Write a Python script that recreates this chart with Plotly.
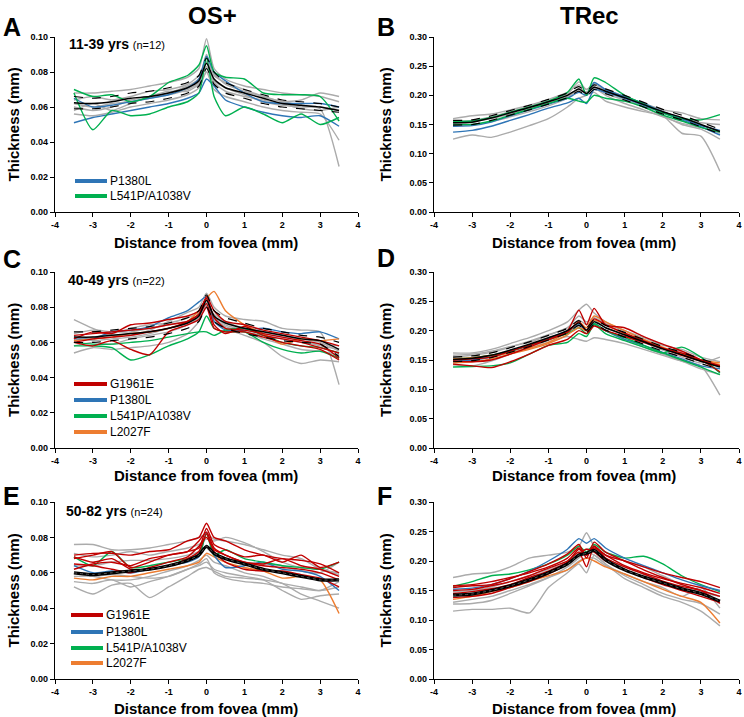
import plotly.graph_objects as go

W, H = 744, 717

# ---------------- data ----------------
X = [-3.5, -3.0, -2.5, -2.0, -1.5, -1.0, -0.5, -0.2, 0.0, 0.2, 0.5, 1.0, 1.5, 2.0, 2.5, 3.0, 3.5]

# Panel A  OS+ 11-39 yrs
A_mean = [0.0625, 0.062, 0.063, 0.065, 0.066, 0.068, 0.071, 0.075, 0.085, 0.076, 0.071, 0.068, 0.065, 0.062, 0.061, 0.060, 0.058]
A_upper = [0.066, 0.065, 0.066, 0.068, 0.069, 0.071, 0.074, 0.078, 0.088, 0.080, 0.074, 0.070, 0.067, 0.064, 0.063, 0.062, 0.060]
A_lower = [0.059, 0.059, 0.060, 0.062, 0.063, 0.065, 0.068, 0.072, 0.082, 0.073, 0.068, 0.065, 0.062, 0.060, 0.059, 0.058, 0.057]
A_gray = [
    [0.068, 0.068, 0.069, 0.070, 0.072, 0.074, 0.077, 0.082, 0.099, 0.082, 0.076, 0.072, 0.070, 0.068, 0.067, 0.066, 0.063],
    [0.060, 0.058, 0.060, 0.064, 0.066, 0.068, 0.072, 0.076, 0.090, 0.078, 0.074, 0.070, 0.066, 0.063, 0.061, 0.059, 0.026],
    [0.056, 0.055, 0.057, 0.060, 0.062, 0.064, 0.067, 0.071, 0.080, 0.070, 0.066, 0.063, 0.060, 0.058, 0.057, 0.056, 0.041],
    [0.064, 0.066, 0.064, 0.066, 0.069, 0.070, 0.073, 0.078, 0.086, 0.079, 0.073, 0.069, 0.066, 0.063, 0.064, 0.068, 0.066],
    [0.062, 0.060, 0.062, 0.063, 0.065, 0.067, 0.070, 0.074, 0.083, 0.075, 0.071, 0.067, 0.063, 0.061, 0.060, 0.060, 0.058],
    [0.058, 0.062, 0.058, 0.062, 0.066, 0.069, 0.069, 0.073, 0.080, 0.074, 0.069, 0.066, 0.064, 0.062, 0.059, 0.058, 0.060],
]
A_blue = [
    [0.051, 0.054, 0.056, 0.058, 0.060, 0.062, 0.065, 0.068, 0.076, 0.072, 0.064, 0.060, 0.057, 0.055, 0.054, 0.055, 0.049],
    [0.065, 0.060, 0.061, 0.063, 0.065, 0.067, 0.071, 0.076, 0.089, 0.080, 0.075, 0.068, 0.063, 0.062, 0.062, 0.062, 0.060],
]
A_green = [
    [0.070, 0.066, 0.067, 0.063, 0.066, 0.074, 0.078, 0.084, 0.095, 0.080, 0.077, 0.076, 0.068, 0.067, 0.067, 0.066, 0.052],
    [0.068, 0.047, 0.058, 0.055, 0.056, 0.060, 0.063, 0.068, 0.088, 0.066, 0.055, 0.060, 0.056, 0.051, 0.056, 0.050, 0.054],
]

# Panel B  TRec 11-39 yrs
B_mean = [0.153, 0.154, 0.161, 0.170, 0.179, 0.189, 0.200, 0.211, 0.203, 0.214, 0.207, 0.196, 0.184, 0.172, 0.162, 0.150, 0.138]
B_upper = [0.157, 0.158, 0.165, 0.174, 0.183, 0.193, 0.204, 0.215, 0.207, 0.218, 0.211, 0.200, 0.188, 0.176, 0.166, 0.154, 0.142]
B_lower = [0.149, 0.150, 0.157, 0.166, 0.175, 0.185, 0.196, 0.207, 0.199, 0.210, 0.203, 0.192, 0.180, 0.168, 0.158, 0.146, 0.134]
B_gray = [
    [0.125, 0.132, 0.128, 0.137, 0.148, 0.160, 0.180, 0.195, 0.200, 0.205, 0.190, 0.180, 0.172, 0.165, 0.135, 0.130, 0.070],
    [0.160, 0.165, 0.168, 0.175, 0.183, 0.193, 0.205, 0.218, 0.210, 0.220, 0.210, 0.198, 0.186, 0.175, 0.170, 0.160, 0.158],
    [0.152, 0.155, 0.160, 0.168, 0.177, 0.187, 0.198, 0.208, 0.205, 0.212, 0.200, 0.186, 0.175, 0.163, 0.152, 0.145, 0.135],
    [0.147, 0.150, 0.155, 0.163, 0.172, 0.182, 0.195, 0.212, 0.206, 0.215, 0.203, 0.192, 0.180, 0.165, 0.150, 0.142, 0.125],
    [0.155, 0.157, 0.163, 0.172, 0.181, 0.191, 0.202, 0.223, 0.210, 0.218, 0.208, 0.193, 0.181, 0.172, 0.160, 0.153, 0.150],
]
B_blue = [
    [0.137, 0.140, 0.147, 0.157, 0.167, 0.178, 0.187, 0.195, 0.186, 0.210, 0.205, 0.195, 0.183, 0.170, 0.158, 0.146, 0.132],
    [0.147, 0.148, 0.154, 0.165, 0.175, 0.185, 0.195, 0.205, 0.200, 0.222, 0.210, 0.198, 0.186, 0.172, 0.160, 0.148, 0.140],
]
B_green = [
    [0.155, 0.156, 0.162, 0.171, 0.180, 0.190, 0.205, 0.228, 0.200, 0.230, 0.222, 0.200, 0.185, 0.170, 0.160, 0.158, 0.167],
    [0.150, 0.150, 0.156, 0.166, 0.176, 0.186, 0.195, 0.190, 0.188, 0.200, 0.195, 0.190, 0.180, 0.166, 0.156, 0.145, 0.137],
]

# Panel C  OS+ 40-49 yrs
C_mean = [0.063, 0.063, 0.064, 0.065, 0.066, 0.068, 0.071, 0.075, 0.084, 0.075, 0.071, 0.068, 0.066, 0.064, 0.062, 0.061, 0.056]
C_upper = [0.066, 0.066, 0.067, 0.068, 0.069, 0.071, 0.074, 0.078, 0.087, 0.078, 0.074, 0.071, 0.068, 0.066, 0.064, 0.063, 0.060]
C_lower = [0.060, 0.060, 0.061, 0.062, 0.063, 0.065, 0.068, 0.072, 0.080, 0.072, 0.068, 0.065, 0.063, 0.061, 0.060, 0.059, 0.052]
C_gray = [
    [0.073, 0.068, 0.064, 0.064, 0.067, 0.072, 0.077, 0.080, 0.088, 0.080, 0.075, 0.073, 0.072, 0.068, 0.067, 0.066, 0.036],
    [0.054, 0.057, 0.056, 0.057, 0.058, 0.060, 0.065, 0.072, 0.082, 0.072, 0.068, 0.064, 0.060, 0.052, 0.048, 0.050, 0.049],
    [0.065, 0.067, 0.066, 0.066, 0.068, 0.070, 0.072, 0.075, 0.080, 0.076, 0.072, 0.068, 0.066, 0.064, 0.062, 0.060, 0.055],
    [0.058, 0.060, 0.059, 0.062, 0.064, 0.066, 0.070, 0.074, 0.083, 0.074, 0.069, 0.066, 0.062, 0.059, 0.056, 0.055, 0.053],
    [0.061, 0.063, 0.065, 0.068, 0.070, 0.071, 0.074, 0.077, 0.081, 0.075, 0.070, 0.067, 0.065, 0.063, 0.061, 0.058, 0.056],
    [0.063, 0.061, 0.062, 0.063, 0.065, 0.068, 0.071, 0.076, 0.085, 0.074, 0.068, 0.066, 0.064, 0.062, 0.060, 0.059, 0.058],
]
C_red = [
    [0.062, 0.066, 0.065, 0.070, 0.071, 0.073, 0.075, 0.078, 0.085, 0.074, 0.068, 0.067, 0.065, 0.063, 0.061, 0.059, 0.051],
    [0.060, 0.062, 0.063, 0.064, 0.066, 0.068, 0.072, 0.076, 0.082, 0.070, 0.065, 0.069, 0.064, 0.062, 0.060, 0.057, 0.054],
    [0.060, 0.058, 0.061, 0.056, 0.053, 0.066, 0.070, 0.073, 0.080, 0.068, 0.066, 0.066, 0.063, 0.060, 0.058, 0.056, 0.050],
    [0.064, 0.065, 0.066, 0.067, 0.068, 0.070, 0.072, 0.076, 0.086, 0.078, 0.072, 0.070, 0.067, 0.065, 0.063, 0.061, 0.058],
]
C_blue = [
    [0.062, 0.062, 0.066, 0.067, 0.069, 0.074, 0.078, 0.083, 0.086, 0.072, 0.067, 0.067, 0.068, 0.066, 0.065, 0.066, 0.062],
]
C_green = [
    [0.058, 0.058, 0.057, 0.050, 0.053, 0.058, 0.062, 0.066, 0.075, 0.068, 0.066, 0.066, 0.060, 0.056, 0.054, 0.055, 0.051],
    [0.060, 0.059, 0.059, 0.060, 0.061, 0.063, 0.065, 0.066, 0.066, 0.064, 0.067, 0.068, 0.064, 0.060, 0.058, 0.057, 0.054],
]
C_orange = [
    [0.061, 0.062, 0.063, 0.065, 0.066, 0.068, 0.072, 0.078, 0.085, 0.089, 0.078, 0.070, 0.065, 0.059, 0.062, 0.061, 0.062],
]

# Panel D  TRec 40-49 yrs
D_mean = [0.151, 0.153, 0.158, 0.167, 0.177, 0.188, 0.200, 0.213, 0.201, 0.215, 0.205, 0.193, 0.181, 0.169, 0.159, 0.148, 0.138]
D_upper = [0.155, 0.157, 0.162, 0.171, 0.181, 0.192, 0.204, 0.217, 0.205, 0.219, 0.209, 0.197, 0.185, 0.173, 0.163, 0.152, 0.142]
D_lower = [0.147, 0.149, 0.154, 0.163, 0.173, 0.184, 0.196, 0.209, 0.197, 0.211, 0.201, 0.189, 0.177, 0.165, 0.155, 0.144, 0.134]
D_gray = [
    [0.162, 0.162, 0.168, 0.178, 0.188, 0.200, 0.215, 0.235, 0.245, 0.230, 0.215, 0.200, 0.188, 0.175, 0.168, 0.155, 0.147],
    [0.142, 0.140, 0.148, 0.160, 0.170, 0.180, 0.190, 0.185, 0.182, 0.188, 0.185, 0.178, 0.168, 0.158, 0.148, 0.140, 0.090],
    [0.155, 0.158, 0.163, 0.172, 0.182, 0.193, 0.205, 0.225, 0.215, 0.222, 0.212, 0.200, 0.185, 0.170, 0.165, 0.150, 0.140],
    [0.148, 0.150, 0.155, 0.163, 0.172, 0.183, 0.197, 0.208, 0.200, 0.212, 0.200, 0.185, 0.172, 0.160, 0.148, 0.135, 0.125],
    [0.158, 0.160, 0.165, 0.173, 0.180, 0.192, 0.205, 0.218, 0.210, 0.218, 0.205, 0.192, 0.180, 0.167, 0.155, 0.145, 0.155],
]
D_red = [
    [0.148, 0.147, 0.150, 0.160, 0.172, 0.185, 0.200, 0.235, 0.210, 0.238, 0.210, 0.205, 0.190, 0.177, 0.165, 0.150, 0.130],
    [0.143, 0.140, 0.137, 0.147, 0.160, 0.175, 0.185, 0.200, 0.195, 0.208, 0.200, 0.190, 0.180, 0.170, 0.158, 0.148, 0.140],
    [0.150, 0.152, 0.155, 0.165, 0.175, 0.185, 0.197, 0.215, 0.200, 0.220, 0.210, 0.196, 0.183, 0.170, 0.162, 0.150, 0.140],
]
D_blue = [
    [0.148, 0.150, 0.155, 0.165, 0.175, 0.187, 0.200, 0.210, 0.200, 0.212, 0.200, 0.185, 0.175, 0.163, 0.152, 0.140, 0.135],
]
D_green = [
    [0.138, 0.139, 0.140, 0.145, 0.160, 0.175, 0.180, 0.195, 0.190, 0.210, 0.195, 0.183, 0.172, 0.162, 0.172, 0.155, 0.128],
    [0.152, 0.154, 0.158, 0.165, 0.175, 0.185, 0.195, 0.205, 0.195, 0.212, 0.200, 0.188, 0.175, 0.162, 0.150, 0.138, 0.125],
]
D_orange = [
    [0.152, 0.154, 0.158, 0.162, 0.170, 0.180, 0.198, 0.215, 0.205, 0.225, 0.215, 0.200, 0.185, 0.172, 0.160, 0.150, 0.142],
    [0.145, 0.147, 0.152, 0.160, 0.168, 0.178, 0.193, 0.205, 0.200, 0.218, 0.210, 0.195, 0.182, 0.170, 0.160, 0.150, 0.145],
]

# Panel E  OS+ 50-82 yrs
E_mean = [0.060, 0.059, 0.060, 0.061, 0.062, 0.064, 0.067, 0.070, 0.075, 0.071, 0.068, 0.065, 0.062, 0.060, 0.058, 0.056, 0.056]
E_gray = [
    [0.076, 0.076, 0.073, 0.073, 0.074, 0.076, 0.078, 0.080, 0.082, 0.079, 0.078, 0.076, 0.073, 0.070, 0.068, 0.062, 0.060],
    [0.052, 0.048, 0.053, 0.054, 0.046, 0.052, 0.058, 0.062, 0.063, 0.061, 0.058, 0.057, 0.056, 0.054, 0.048, 0.044, 0.040],
    [0.058, 0.058, 0.056, 0.056, 0.058, 0.061, 0.064, 0.067, 0.070, 0.066, 0.064, 0.060, 0.058, 0.054, 0.052, 0.050, 0.052],
    [0.071, 0.069, 0.070, 0.072, 0.070, 0.072, 0.074, 0.076, 0.079, 0.078, 0.080, 0.077, 0.072, 0.066, 0.063, 0.062, 0.059],
    [0.060, 0.058, 0.059, 0.058, 0.057, 0.058, 0.062, 0.065, 0.068, 0.060, 0.057, 0.055, 0.054, 0.052, 0.051, 0.050, 0.055],
    [0.064, 0.064, 0.066, 0.067, 0.067, 0.068, 0.070, 0.072, 0.074, 0.070, 0.068, 0.066, 0.065, 0.064, 0.061, 0.060, 0.066],
    [0.055, 0.054, 0.056, 0.052, 0.055, 0.058, 0.062, 0.064, 0.066, 0.062, 0.060, 0.058, 0.056, 0.050, 0.045, 0.047, 0.048],
]
E_red = [
    [0.070, 0.071, 0.071, 0.070, 0.072, 0.073, 0.078, 0.080, 0.088, 0.080, 0.078, 0.073, 0.070, 0.068, 0.067, 0.065, 0.060],
    [0.068, 0.070, 0.072, 0.063, 0.066, 0.070, 0.072, 0.074, 0.085, 0.076, 0.073, 0.069, 0.070, 0.066, 0.070, 0.063, 0.066],
    [0.062, 0.065, 0.066, 0.064, 0.068, 0.070, 0.072, 0.078, 0.083, 0.074, 0.070, 0.066, 0.064, 0.063, 0.062, 0.060, 0.056],
    [0.069, 0.066, 0.068, 0.062, 0.062, 0.064, 0.068, 0.072, 0.082, 0.072, 0.066, 0.062, 0.061, 0.061, 0.059, 0.057, 0.052],
    [0.065, 0.064, 0.062, 0.060, 0.063, 0.066, 0.069, 0.075, 0.080, 0.073, 0.070, 0.066, 0.065, 0.068, 0.064, 0.062, 0.058],
]
E_blue = [
    [0.064, 0.060, 0.061, 0.060, 0.062, 0.064, 0.066, 0.069, 0.083, 0.070, 0.063, 0.064, 0.066, 0.062, 0.061, 0.058, 0.050],
]
E_green = [
    [0.069, 0.064, 0.072, 0.063, 0.064, 0.066, 0.068, 0.070, 0.082, 0.070, 0.073, 0.068, 0.066, 0.064, 0.063, 0.062, 0.066],
]
E_orange = [
    [0.057, 0.056, 0.058, 0.058, 0.060, 0.062, 0.064, 0.066, 0.071, 0.069, 0.066, 0.063, 0.061, 0.057, 0.058, 0.056, 0.037],
]

# Panel F  TRec 50-82 yrs
F_mean = [0.142, 0.144, 0.150, 0.158, 0.168, 0.180, 0.195, 0.210, 0.213, 0.218, 0.202, 0.185, 0.173, 0.163, 0.153, 0.145, 0.132]
F_gray = [
    [0.172, 0.178, 0.180, 0.190, 0.205, 0.210, 0.215, 0.225, 0.248, 0.225, 0.210, 0.200, 0.190, 0.175, 0.160, 0.150, 0.140],
    [0.115, 0.118, 0.118, 0.120, 0.112, 0.155, 0.180, 0.195, 0.180, 0.210, 0.195, 0.170, 0.155, 0.140, 0.130, 0.115, 0.090],
    [0.127, 0.128, 0.133, 0.145, 0.158, 0.172, 0.190, 0.205, 0.215, 0.210, 0.195, 0.175, 0.160, 0.145, 0.135, 0.128, 0.110],
    [0.130, 0.135, 0.140, 0.150, 0.160, 0.172, 0.185, 0.200, 0.205, 0.205, 0.192, 0.178, 0.165, 0.155, 0.140, 0.155, 0.120],
    [0.148, 0.150, 0.156, 0.165, 0.175, 0.186, 0.200, 0.215, 0.220, 0.220, 0.205, 0.190, 0.178, 0.165, 0.155, 0.147, 0.140],
]
F_red = [
    [0.158, 0.160, 0.165, 0.172, 0.180, 0.190, 0.205, 0.222, 0.210, 0.225, 0.210, 0.200, 0.190, 0.180, 0.172, 0.165, 0.155],
    [0.155, 0.158, 0.160, 0.170, 0.182, 0.195, 0.212, 0.228, 0.205, 0.232, 0.215, 0.200, 0.185, 0.172, 0.160, 0.150, 0.140],
    [0.150, 0.152, 0.158, 0.165, 0.175, 0.188, 0.200, 0.215, 0.190, 0.225, 0.205, 0.190, 0.178, 0.166, 0.157, 0.150, 0.128],
    [0.145, 0.148, 0.153, 0.160, 0.172, 0.183, 0.198, 0.220, 0.210, 0.222, 0.210, 0.192, 0.180, 0.170, 0.162, 0.155, 0.145],
    [0.138, 0.140, 0.145, 0.155, 0.165, 0.178, 0.195, 0.212, 0.220, 0.215, 0.200, 0.185, 0.172, 0.160, 0.150, 0.140, 0.130],
]
F_blue = [
    [0.152, 0.154, 0.160, 0.170, 0.183, 0.200, 0.220, 0.238, 0.230, 0.238, 0.222, 0.205, 0.192, 0.180, 0.168, 0.158, 0.150],
]
F_green = [
    [0.157, 0.165, 0.175, 0.178, 0.185, 0.195, 0.210, 0.225, 0.215, 0.228, 0.215, 0.205, 0.208, 0.195, 0.175, 0.160, 0.148],
]
F_orange = [
    [0.135, 0.140, 0.148, 0.155, 0.165, 0.175, 0.185, 0.198, 0.205, 0.200, 0.190, 0.178, 0.165, 0.152, 0.140, 0.130, 0.095],
]

X_TICKS = [-4, -3, -2, -1, 0, 1, 2, 3, 4]
OS_TICKS = [0.00, 0.02, 0.04, 0.06, 0.08, 0.10]
TR_TICKS = [0.00, 0.05, 0.10, 0.15, 0.20, 0.25, 0.30]
COL_TITLES = ["OS+", "TRec"]
PANEL_LETTERS = ["A", "B", "C", "D", "E", "F"]
AGE_GROUPS = ["11-39 yrs", "40-49 yrs", "50-82 yrs"]
N_LABELS = ["(n=12)", "(n=22)", "(n=24)"]
LEGEND_A = ["P1380L", "L541P/A1038V"]
LEGEND_CE = ["G1961E", "P1380L", "L541P/A1038V", "L2027F"]

# ---------------- style ----------------
FONT = "Arial, 'Liberation Sans', sans-serif"
GRAY = "#ABABAB"
RED = "#C00000"
BLUE = "#2E75B6"
GREEN = "#00B050"
ORANGE = "#ED7D31"
COLOR_OF = {"G1961E": RED, "P1380L": BLUE, "L541P/A1038V": GREEN, "L2027F": ORANGE}


def px(x):
    return x / W


def py(y):
    return 1 - y / H


X_DOM = [[px(55), px(358)], [px(434), px(739)]]
Y_DOM = [[py(212), py(37)], [py(448), py(272)], [py(679), py(502)]]

fig = go.Figure()

panels = [
    dict(gray=A_gray, cols=[(A_blue, BLUE), (A_green, GREEN)], mean=A_mean, up=A_upper, lo=A_lower),
    dict(gray=B_gray, cols=[(B_blue, BLUE), (B_green, GREEN)], mean=B_mean, up=B_upper, lo=B_lower),
    dict(gray=C_gray, cols=[(C_blue, BLUE), (C_green, GREEN), (C_orange, ORANGE), (C_red, RED)], mean=C_mean, up=C_upper, lo=C_lower),
    dict(gray=D_gray, cols=[(D_blue, BLUE), (D_green, GREEN), (D_orange, ORANGE), (D_red, RED)], mean=D_mean, up=D_upper, lo=D_lower),
    dict(gray=E_gray, cols=[(E_orange, ORANGE), (E_blue, BLUE), (E_green, GREEN), (E_red, RED)], mean=E_mean, up=None, lo=None),
    dict(gray=F_gray, cols=[(F_orange, ORANGE), (F_green, GREEN), (F_blue, BLUE), (F_red, RED)], mean=F_mean, up=None, lo=None),
]

SMOOTH = dict(shape="spline", smoothing=0.6)

layout_axes = {}
for i, p in enumerate(panels):
    k = i + 1
    xa = "x" if k == 1 else f"x{k}"
    ya = "y" if k == 1 else f"y{k}"
    for ys in p["gray"]:
        fig.add_trace(go.Scatter(x=X, y=ys, mode="lines", xaxis=xa, yaxis=ya,
                                 line=dict(color=GRAY, width=1.4, **SMOOTH), hoverinfo="skip"))
    for group, col in p["cols"]:
        for ys in group:
            fig.add_trace(go.Scatter(x=X, y=ys, mode="lines", xaxis=xa, yaxis=ya,
                                     line=dict(color=col, width=1.4, **SMOOTH), hoverinfo="skip"))
    if p["up"] is not None:
        for ys in (p["up"], p["lo"]):
            fig.add_trace(go.Scatter(x=X, y=ys, mode="lines", xaxis=xa, yaxis=ya,
                                     line=dict(color="black", width=1.2, dash="dash", **SMOOTH),
                                     hoverinfo="skip"))
        fig.add_trace(go.Scatter(x=X, y=p["mean"], mode="lines", xaxis=xa, yaxis=ya,
                                 line=dict(color="black", width=1.5, **SMOOTH), hoverinfo="skip"))
    else:
        fig.add_trace(go.Scatter(x=X, y=p["mean"], mode="lines", xaxis=xa, yaxis=ya,
                                 line=dict(color="black", width=3.2, **SMOOTH), hoverinfo="skip"))
        fig.add_trace(go.Scatter(x=X, y=p["mean"], mode="lines", xaxis=xa, yaxis=ya,
                                 line=dict(color="#555555", width=1, dash="dot", **SMOOTH),
                                 hoverinfo="skip"))

    col = i % 2
    row = i // 2
    ticks = OS_TICKS if col == 0 else TR_TICKS
    axis_common = dict(showline=True, linecolor="black", linewidth=1.3, ticks="outside",
                       ticklen=4, tickwidth=1.2, tickcolor="black", showgrid=False, zeroline=False,
                       automargin=False,
                       tickfont=dict(family=FONT, size=9, color="black", weight="bold"))
    layout_axes["xaxis" if k == 1 else f"xaxis{k}"] = dict(
        domain=X_DOM[col], anchor=ya, range=[-4, 4], tickmode="array", tickvals=X_TICKS,
        ticktext=[str(t) for t in X_TICKS], **axis_common)
    layout_axes["yaxis" if k == 1 else f"yaxis{k}"] = dict(
        domain=Y_DOM[row], anchor=xa, range=[0, ticks[-1]], tickmode="array", tickvals=ticks,
        ticktext=[f"{t:.2f}" for t in ticks], **axis_common)

fig.update_layout(template="none", **layout_axes)


def note(x, y, text, size, xanchor="center", angle=0):
    return dict(x=px(x), y=py(y), text=text, showarrow=False, xref="paper", yref="paper",
                xanchor=xanchor, yanchor="middle", textangle=angle,
                font=dict(family=FONT, size=size, color="black"))


ann = []
shapes = []
# column titles
ann.append(note(212, 15, "<b>" + COL_TITLES[0] + "</b>", 24))
ann.append(note(589, 15, "<b>" + COL_TITLES[1] + "</b>", 24))
# panel letters
letter_pos = [(1, 27), (375, 27), (1, 259), (375, 258), (1, 496), (375, 496)]
for letter, (lx, ly) in zip(PANEL_LETTERS, letter_pos):
    ann.append(note(lx, ly, f"<b>{letter}</b>", 25, xanchor="left"))
# axis titles
row_centers = [(37 + 212) / 2, (272 + 448) / 2, (502 + 679) / 2]
xtitle_y = [242, 475, 708]
for r in range(3):
    for yx, xc in [(13, 206), (385, 584)]:
        ann.append(note(yx, row_centers[r], "<b>Thickness (mm)</b>", 15, angle=-90))
        ann.append(note(xc, xtitle_y[r], "<b>Distance from fovea (mm)</b>", 15))
# age group labels
age_y = [44, 280, 511]
age_x = [67, 66, 64]
for r in range(3):
    ann.append(note(age_x[r], age_y[r],
                    f"<b>{AGE_GROUPS[r]}</b> <span style='font-size:11px'>{N_LABELS[r]}</span>",
                    14, xanchor="left"))
# legends
legend_specs = [
    (LEGEND_A, [181, 196], 75, 107),
    (LEGEND_CE, [384, 400, 416, 432], 74, 107),
    (LEGEND_CE, [615, 632, 648, 663], 71, 103),
]
for names, ys, x0, x1 in legend_specs:
    for name, yy in zip(names, ys):
        shapes.append(dict(type="line", xref="paper", yref="paper", x0=px(x0), x1=px(x1),
                           y0=py(yy), y1=py(yy), line=dict(color=COLOR_OF[name], width=4)))
        ann.append(note(x1 + 1, yy, name, 12, xanchor="left"))

fig.update_layout(width=W, height=H, margin=dict(l=0, r=0, t=0, b=0), autosize=False,
                  paper_bgcolor="white", plot_bgcolor="white", showlegend=False,
                  annotations=ann, shapes=shapes)

fig.write_html("out.html", config={"displayModeBar": False},
               post_script="document.body.style.margin='0';document.body.style.overflow='hidden';")
